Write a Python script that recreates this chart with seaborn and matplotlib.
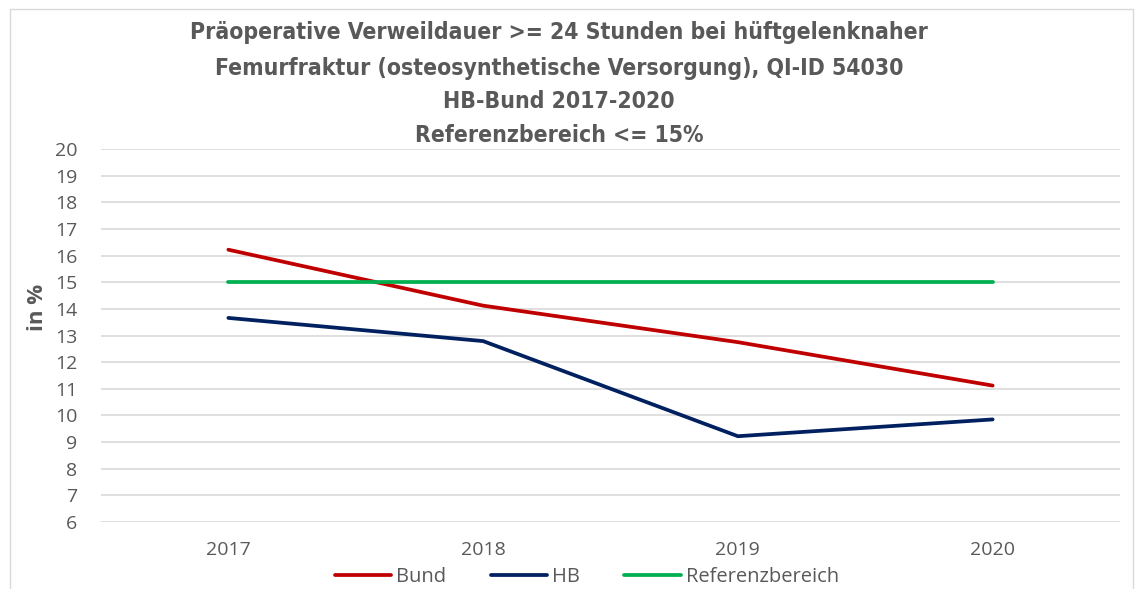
import pandas as pd
import numpy as np
import seaborn as sns
import matplotlib.pyplot as plt
from matplotlib import font_manager
from matplotlib.patches import Rectangle

# data
jahre = ["2017", "2018", "2019", "2020"]
bund = [16.22, 14.12, 12.75, 11.12]
hb = [13.66, 12.79, 9.22, 9.85]
referenz = [15, 15, 15, 15]

title_lines = [
    "Präoperative Verweildauer >= 24 Stunden bei hüftgelenknaher",
    "Femurfraktur (osteosynthetische Versorgung), QI-ID 54030",
    "HB-Bund 2017-2020",
    "Referenzbereich <= 15%",
]

df = pd.DataFrame({
    "Jahr": jahre * 3,
    "Wert": bund + hb + referenz,
    "Serie": ["Bund"] * 4 + ["HB"] * 4 + ["Referenzbereich"] * 4,
})

sns.set_style("white")
plt.rcParams["font.family"] = ["Open Sans", "DejaVu Sans"]
grey = "#595959"

# pick a narrow bold face for the title if one is installed
names = {f.name for f in font_manager.fontManager.ttflist}
narrow = [n for n in ["Liberation Sans Narrow", "DejaVu Sans Condensed"] if n in names]
title_family = narrow[0] if narrow else "DejaVu Sans"

fig = plt.figure(figsize=(11.38, 5.89), dpi=100)
ax = fig.add_axes([101 / 1138, 1 - 522 / 589, (1120 - 101) / 1138, (522 - 149) / 589])

palette = {"Bund": "#C00000", "HB": "#002060", "Referenzbereich": "#00B050"}
sns.lineplot(data=df, x="Jahr", y="Wert", hue="Serie", palette=palette,
             linewidth=2.7, ax=ax, sort=False, legend=True)
for ln in ax.get_lines():
    ln.set_solid_capstyle("round")

ax.set_xlim(-0.5, 3.5)
ax.set_ylim(6, 20)
ax.set_yticks(range(6, 21))
ax.grid(axis="y", color="#d9d9d9", linewidth=1.2)
ax.set_axisbelow(True)
for s in ax.spines.values():
    s.set_visible(False)
ax.tick_params(axis="both", length=0, labelsize=14, labelcolor=grey)
ax.tick_params(axis="x", pad=14)
ax.tick_params(axis="y", pad=17)
ax.set_xlabel("")
ax.set_ylabel("in %", fontsize=16, fontweight="bold", color=grey)
ax.yaxis.set_label_coords(-0.052, 0.574)

handles, labels = ax.get_legend_handles_labels()
ax.get_legend().remove()
leg = fig.legend(handles, labels, loc="center", bbox_to_anchor=(587 / 1138, 1 - 577 / 589),
                 ncol=3, frameon=False, fontsize=14.5, handlelength=2.8,
                 handletextpad=0.25, columnspacing=2.2, borderpad=0)
for t in leg.get_texts():
    t.set_color(grey)

title_y = [32, 68, 101, 135]
for txt, yy in zip(title_lines, title_y):
    fig.text(559 / 1138, 1 - yy / 589, txt, ha="center", va="center",
             fontsize=16.5, fontweight="bold", color=grey,
             family=[title_family, "DejaVu Sans"], fontstretch="condensed")

fig.patches.append(Rectangle((10 / 1138, -0.02), 1123 / 1138, 1.02 - 9 / 589,
                             transform=fig.transFigure, fill=False,
                             edgecolor="#d9d9d9", linewidth=1))

fig.savefig("out.png", dpi=100)
